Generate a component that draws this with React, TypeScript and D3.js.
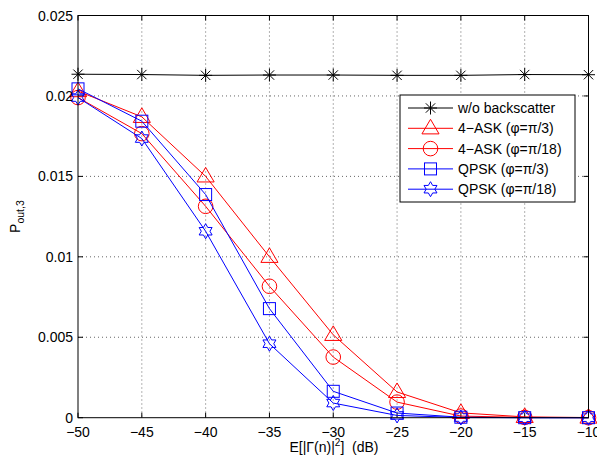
import React from 'react';
import * as d3 from 'd3';

const xValues = [-50, -45, -40, -35, -30, -25, -20, -15, -10];
const noBackscatter = [0.02135, 0.02133, 0.02128, 0.0213, 0.0213, 0.02128, 0.02128, 0.02133, 0.02132];
const ask4Pi3 = [0.0203, 0.0187, 0.0150, 0.0100, 0.00515, 0.0016, 0.0003, 0.00005, 0.00001];
const ask4Pi18 = [0.0199, 0.01766, 0.01314, 0.00817, 0.00377, 0.00097, 0.0001, 0.00002, 0.0];
const qpskPi3 = [0.02044, 0.01843, 0.01387, 0.00678, 0.00164, 0.00029, 0.00003, 0.0, 0.0];
const qpskPi18 = [0.0199, 0.01735, 0.01159, 0.0046, 0.00091, 0.00014, 0.00001, 0.0, 0.0];

const seriesLabels = [
  'w/o backscatter',
  '4\u2212ASK (\u03c6=\u03c0/3)',
  '4\u2212ASK (\u03c6=\u03c0/18)',
  'QPSK (\u03c6=\u03c0/3)',
  'QPSK (\u03c6=\u03c0/18)',
];
const xTicks = [-50, -45, -40, -35, -30, -25, -20, -15, -10];
const yTicks = [0, 0.005, 0.01, 0.015, 0.02, 0.025];
const yTickLabels = ['0', '0.005', '0.01', '0.015', '0.02', '0.025'];

const series = [
  { name: seriesLabels[0], values: noBackscatter, color: '#000000', marker: 'asterisk' },
  { name: seriesLabels[1], values: ask4Pi3, color: '#ff0000', marker: 'triangle' },
  { name: seriesLabels[2], values: ask4Pi18, color: '#ff0000', marker: 'circle' },
  { name: seriesLabels[3], values: qpskPi3, color: '#0000ff', marker: 'square' },
  { name: seriesLabels[4], values: qpskPi18, color: '#0000ff', marker: 'hexagram' },
];

const L = 78, R = 588.5, T = 15.5, B = 417.7;
const FONT = '"Liberation Sans", Arial, Helvetica, sans-serif';

function Marker({ type, x, y, color }: { type: string; x: number; y: number; color: string }) {
  const common = { fill: 'none', stroke: color, strokeWidth: 1 };
  if (type === 'asterisk') {
    const r = 6.5;
    const d = r * 0.72;
    return (
      <g {...common}>
        <line x1={x - r} y1={y} x2={x + r} y2={y} />
        <line x1={x} y1={y - r} x2={x} y2={y + r} />
        <line x1={x - d} y1={y - d} x2={x + d} y2={y + d} />
        <line x1={x - d} y1={y + d} x2={x + d} y2={y - d} />
      </g>
    );
  }
  if (type === 'triangle') {
    const r = 9;
    const pts = [
      [x, y - r],
      [x + r * 0.95, y + r * 0.62],
      [x - r * 0.95, y + r * 0.62],
    ];
    return <polygon points={pts.map((p) => p.join(',')).join(' ')} {...common} />;
  }
  if (type === 'circle') {
    return <circle cx={x} cy={y} r={7.3} {...common} />;
  }
  if (type === 'square') {
    const s = 6;
    return <rect x={x - s} y={y - s} width={2 * s} height={2 * s} {...common} />;
  }
  // hexagram
  const ro = 7.5;
  const ri = ro / Math.sqrt(3);
  const pts: number[][] = [];
  for (let i = 0; i < 12; i++) {
    const a = -Math.PI / 2 + (i * Math.PI) / 6;
    const r = i % 2 === 0 ? ro : ri;
    pts.push([x + r * Math.cos(a), y + r * Math.sin(a)]);
  }
  return <polygon points={pts.map((p) => p.join(',')).join(' ')} {...common} />;
}

export default function App() {
  const xScale = d3.scaleLinear().domain([-50, -10]).range([L, R]);
  const yScale = d3.scaleLinear().domain([0, 0.025]).range([B, T]);
  const line = d3
    .line<[number, number]>()
    .x((d) => xScale(d[0]))
    .y((d) => yScale(d[1]));

  const legX = 400, legY = 95, legW = 175, legH = 107;
  const rowH = 20.3;

  return (
    <svg width={597} height={462} style={{ position: 'absolute', left: 0, top: 0, background: '#fff' }}>
      <rect x={0} y={0} width={597} height={462} fill="#fff" />
      {/* grid */}
      <g stroke="#555" strokeWidth={0.9} strokeDasharray="1 3">
        {xTicks.slice(1, -1).map((t) => (
          <line key={'gx' + t} x1={xScale(t)} x2={xScale(t)} y1={T} y2={B} />
        ))}
        {yTicks.slice(1, -1).map((t) => (
          <line key={'gy' + t} x1={L} x2={R} y1={yScale(t)} y2={yScale(t)} />
        ))}
      </g>
      {/* ticks */}
      <g stroke="#000" strokeWidth={1}>
        {xTicks.map((t) => (
          <g key={'tx' + t}>
            <line x1={xScale(t)} x2={xScale(t)} y1={B} y2={B - 5} />
            <line x1={xScale(t)} x2={xScale(t)} y1={T} y2={T + 5} />
          </g>
        ))}
        {yTicks.map((t) => (
          <g key={'ty' + t}>
            <line x1={L} x2={L + 5} y1={yScale(t)} y2={yScale(t)} />
            <line x1={R} x2={R - 5} y1={yScale(t)} y2={yScale(t)} />
          </g>
        ))}
      </g>
      {/* series */}
      {series.map((s) => {
        const pts = xValues.map((x, i) => [x, s.values[i]] as [number, number]);
        return (
          <g key={s.name}>
            <path d={line(pts) || ''} fill="none" stroke={s.color} strokeWidth={1} />
            {pts.map((p, i) => (
              <Marker key={i} type={s.marker} x={xScale(p[0])} y={yScale(p[1])} color={s.color} />
            ))}
          </g>
        );
      })}
      {/* box */}
      <rect x={L} y={T} width={R - L} height={B - T} fill="none" stroke="#000" strokeWidth={1} />
      {/* tick labels */}
      <g fontFamily={FONT} fontSize={14} fill="#000">
        {xTicks.map((t) => (
          <text key={'lx' + t} x={xScale(t)} y={437} textAnchor="middle">
            {t < 0 ? '\u2212' + Math.abs(t) : String(t)}
          </text>
        ))}
        {yTicks.map((t, i) => (
          <text key={'ly' + t} x={73} y={yScale(t) + 5} textAnchor="end">
            {yTickLabels[i]}
          </text>
        ))}
      </g>
      {/* axis labels */}
      <text x={334} y={452} textAnchor="middle" fontFamily={FONT} fontSize={14} style={{ whiteSpace: 'pre' }}>
        E[|{'\u0393'}(n)|<tspan fontSize={10} dy={-6}>2</tspan>
        <tspan dy={6}>{']\u00a0\u00a0(dB)'}</tspan>
      </text>
      <text
        transform={`translate(20,${(T + B) / 2}) rotate(-90)`}
        textAnchor="middle"
        fontFamily={FONT}
        fontSize={14}
      >
        P<tspan fontSize={10.5} dy={4}>out,3</tspan>
      </text>
      {/* legend */}
      <g>
        <rect x={legX} y={legY} width={legW} height={legH} fill="#fff" stroke="#000" strokeWidth={1} />
        {series.map((s, i) => {
          const cy = legY + 13 + i * rowH;
          return (
            <g key={'leg' + i}>
              <line x1={408} x2={453} y1={cy} y2={cy} stroke={s.color} strokeWidth={1} />
              <Marker type={s.marker} x={430.5} y={cy} color={s.color} />
              <text x={458} y={cy + 5} fontFamily={FONT} fontSize={14}>
                {s.name}
              </text>
            </g>
          );
        })}
      </g>
    </svg>
  );
}
